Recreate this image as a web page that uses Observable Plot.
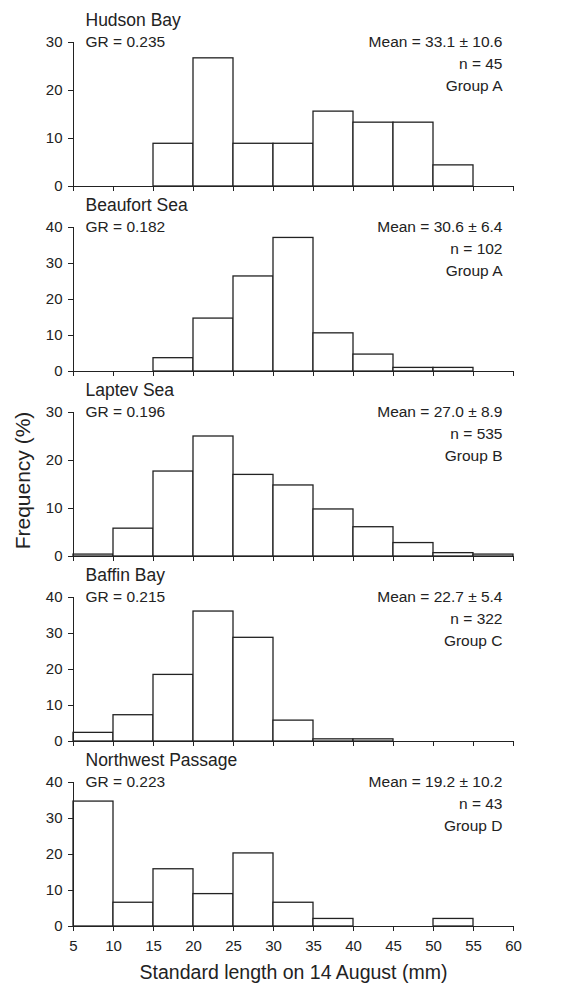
<!DOCTYPE html>
<html>
<head>
<meta charset="utf-8">
<script src="https://cdn.jsdelivr.net/npm/d3@7"></script>
<script src="https://cdn.jsdelivr.net/npm/@observablehq/plot@0.6"></script>
<style>
  html, body { margin: 0; padding: 0; background: white; }
  #chart { width: 565px; padding-top: 6px; }
  #chart svg { display: block; }
</style>
</head>
<body>
<div id="chart"></div>
<script>
// ---- data ----
const binLo = [5, 10, 15, 20, 25, 30, 35, 40, 45, 50, 55];
const binWidth = 5;
const xTicks = [5, 10, 15, 20, 25, 30, 35, 40, 45, 50, 55, 60];
const regions = ["Hudson Bay", "Beaufort Sea", "Laptev Sea", "Baffin Bay", "Northwest Passage"];
const grLabels = ["GR = 0.235", "GR = 0.182", "GR = 0.196", "GR = 0.215", "GR = 0.223"];
const meanLabels = ["Mean = 33.1 ± 10.6", "Mean = 30.6 ± 6.4", "Mean = 27.0 ± 8.9", "Mean = 22.7 ± 5.4", "Mean = 19.2 ± 10.2"];
const nLabels = ["n = 45", "n = 102", "n = 535", "n = 322", "n = 43"];
const groupLabels = ["Group A", "Group A", "Group B", "Group C", "Group D"];
const yMax = [30, 40, 30, 40, 40];
const yTicks30 = [0, 10, 20, 30];
const yTicks40 = [0, 10, 20, 30, 40];
const hudson    = [0, 0, 8.9, 26.7, 8.9, 8.9, 15.6, 13.3, 13.3, 4.4, 0];
const beaufort  = [0, 0, 3.7, 14.7, 26.4, 37.1, 10.6, 4.7, 1.0, 1.0, 0];
const laptev    = [0.4, 5.8, 17.7, 25.0, 17.0, 14.8, 9.8, 6.1, 2.8, 0.7, 0.4];
const baffin    = [2.4, 7.3, 18.5, 36.1, 28.8, 5.8, 0.6, 0.6, 0, 0, 0];
const nwPassage = [34.7, 6.6, 15.9, 9.0, 20.3, 6.6, 2.1, 0, 0, 2.1, 0];
const series = [hudson, beaufort, laptev, baffin, nwPassage];
const yLabel = "Frequency (%)";
const xLabel = "Standard length on 14 August (mm)";

// ---- drawing ----
const font = "'Liberation Sans', Arial, Helvetica, sans-serif";
const ink = "#222";
const chart = document.getElementById("chart");

regions.forEach((name, i) => {
  const isLast = i === regions.length - 1;
  const rows = binLo.map((lo, k) => ({lo, hi: lo + binWidth, f: series[i][k]})).filter(d => d.f > 0);
  const yTicks = yMax[i] === 30 ? yTicks30 : yTicks40;
  const marks = [
    Plot.rectY(rows, {x1: "lo", x2: "hi", y: "f", fill: "white", stroke: ink, strokeWidth: 1.3}),
    Plot.ruleX([5], {stroke: ink, strokeWidth: 1}),
    Plot.ruleY([0], {stroke: ink, strokeWidth: 1}),
    Plot.axisY({ticks: yTicks, tickSize: 5, tickPadding: 6, label: null, fontSize: 15, stroke: ink, fill: ink}),
    isLast
      ? Plot.axisX({ticks: xTicks, tickSize: 5, tickPadding: 9, label: null, fontSize: 15, stroke: ink, fill: ink})
      : Plot.axisX({ticks: xTicks, tickSize: 5, label: null, stroke: ink, fill: "none"}),
    Plot.text([name], {text: d => d, frameAnchor: "top-left", textAnchor: "start", lineAnchor: "middle", dx: 12, dy: -22, fontSize: 17.5, fill: ink}),
    Plot.text([grLabels[i]], {text: d => d, frameAnchor: "top-left", textAnchor: "start", lineAnchor: "middle", dx: 12, dy: 0, fontSize: 15.5, fill: ink}),
    Plot.text([meanLabels[i]], {text: d => d, frameAnchor: "top-right", textAnchor: "end", lineAnchor: "middle", dx: -11, dy: 0, fontSize: 15.5, fill: ink}),
    Plot.text([nLabels[i]], {text: d => d, frameAnchor: "top-right", textAnchor: "end", lineAnchor: "middle", dx: -11, dy: 22, fontSize: 15.5, fill: ink}),
    Plot.text([groupLabels[i]], {text: d => d, frameAnchor: "top-right", textAnchor: "end", lineAnchor: "middle", dx: -11, dy: 44, fontSize: 15.5, fill: ink})
  ];
  if (i === 2) {
    marks.push(Plot.text([yLabel], {text: d => d, frameAnchor: "left", rotate: -90, textAnchor: "middle", lineAnchor: "middle", dx: -50, dy: -4, fontSize: 21, fill: ink}));
  }
  if (isLast) {
    marks.push(Plot.text([xLabel], {text: d => d, frameAnchor: "bottom", textAnchor: "middle", lineAnchor: "middle", dy: 46, fontSize: 19.5, fill: ink}));
  }
  const svg = Plot.plot({
    width: 565,
    height: isLast ? 241 : 185,
    marginLeft: 73,
    marginRight: 52,
    marginTop: 36,
    marginBottom: isLast ? 61 : 5,
    x: {domain: [5, 60]},
    y: {domain: [0, yMax[i]]},
    style: {fontFamily: font, fontSize: "15px", color: ink, background: "white", overflow: "visible"},
    marks
  });
  chart.appendChild(svg);
});
</script>
</body>
</html>
